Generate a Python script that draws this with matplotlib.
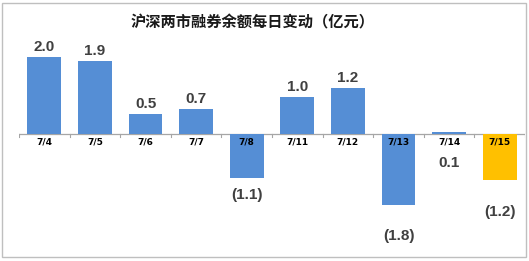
import matplotlib

matplotlib.use("Agg")
import matplotlib.pyplot as plt  # noqa: E402
from matplotlib.patches import Rectangle  # noqa: E402

plt.rcParams["font.family"] = ["Noto Sans CJK SC", "DejaVu Sans"]

dates = ["7/4", "7/5", "7/6", "7/7", "7/8", "7/11", "7/12", "7/13", "7/14", "7/15"]
changes = [2.01, 1.90, 0.52, 0.66, -1.14, 0.97, 1.20, -1.84, 0.06, -1.19]
bar_colors = ["#558ED5"] * 9 + ["#FFC000"]
# extra drop (in data units) of the label below negative / tiny bars
label_drop = [0, 0, 0, 0, 0.15, 0, 0, 0.52, 0.47, 0.55]

W, H = 529, 261
fig = plt.figure(figsize=(W / 100, H / 100), dpi=100)
fig.patches.append(Rectangle((2 / W, 4 / H), 524 / W, 254 / H, transform=fig.transFigure,
                             fill=False, edgecolor="#BFBFBF", linewidth=1.0))

# axes: x from 19 to 525 px, y from 40 to 245 px (zero at 134)
ax = fig.add_axes([19 / W, (H - 245) / H, 506 / W, 205 / H])
scale = 38.5
ax.set_xlim(-0.5, len(dates) - 0.5)
ax.set_ylim(-(245 - 134) / scale, (134 - 40) / scale)
ax.axis("off")

x = list(range(len(dates)))
ax.bar(x, changes, width=0.67, color=bar_colors, zorder=2)

# zero line and ticks between categories
ax.axhline(0, color="#A6A6A6", linewidth=0.9, zorder=1)
for b in range(len(dates) + 1):
    ax.plot([b - 0.5, b - 0.5], [0, -0.08], color="#A6A6A6", linewidth=0.8, zorder=1)

num_font = ["Liberation Sans", "DejaVu Sans"]
for i, (d, v) in enumerate(zip(dates, changes)):
    ax.text(i, -0.22, d, ha="center", va="center", fontsize=6.5, fontweight="bold",
            color="black", family=["DejaVu Sans"], zorder=3)
    txt = f"{v:.1f}" if v >= 0 else f"({abs(v):.1f})"
    if v >= 0 and label_drop[i] == 0:
        ax.text(i, v + 0.08, txt, ha="center", va="bottom", fontsize=11,
                fontweight="bold", color="#404040", family=num_font)
    else:
        base = min(v, 0)
        ax.text(i, base - 0.1 - label_drop[i], txt, ha="center", va="top", fontsize=11,
                fontweight="bold", color="#404040", family=num_font)

fig.text(253 / W, 1 - 22 / H, "沪深两市融券余额每日变动（亿元）", ha="center", va="center",
         fontsize=11, fontweight="bold", color="#1A1A1A")

fig.savefig("out.png", dpi=100)
